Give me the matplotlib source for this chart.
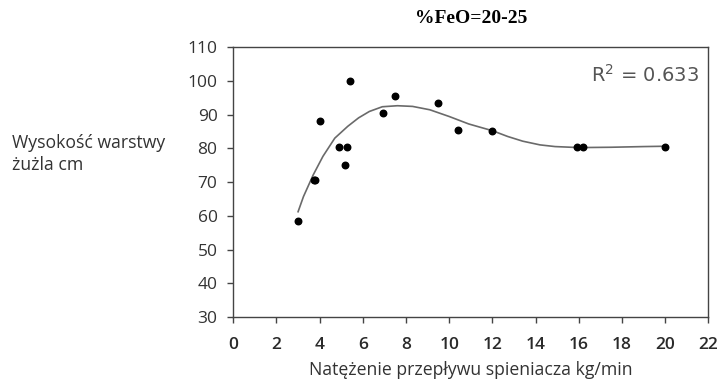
import numpy as np
import matplotlib.pyplot as plt

# punkty pomiarowe
x = [3.0, 3.75, 3.8, 4.0, 4.9, 5.15, 5.25, 5.4, 6.95, 7.5, 9.5, 10.4, 12.0, 15.9, 16.2, 20.0]
y = [58.5, 70.5, 70.5, 88.0, 80.5, 75.0, 80.5, 100.0, 90.5, 95.5, 93.5, 85.5, 85.0, 80.5, 80.5, 80.5]

# linia trendu
trend_x = [3.0, 3.25, 3.7, 4.15, 4.7, 5.3, 5.8, 6.3, 6.9, 7.6, 8.3, 9.1, 10.0, 10.9, 11.5, 12.0,
           12.7, 13.4, 14.2, 14.9, 16.0, 17.5, 19.0, 20.0]
trend_y = [61.2, 65.7, 72.1, 77.6, 83.0, 86.5, 89.0, 90.9, 92.3, 92.6, 92.4, 91.4, 89.4, 87.2, 86.1, 85.2,
           83.5, 82.1, 81.0, 80.5, 80.2, 80.3, 80.5, 80.6]

xticks = np.arange(0, 23, 2)
yticks = np.arange(30, 111, 10)

fig = plt.figure(figsize=(7.2, 3.82), dpi=100)
ax = fig.add_axes([0.324, 0.170, 0.660, 0.707])

ax.plot(trend_x, trend_y, color='#6a6a6a', lw=1.2)
ax.scatter(x, y, s=22, color='black', zorder=3)

ax.set_xlim(0, 22)
ax.set_ylim(30, 110)
ax.set_xticks(xticks)
ax.set_yticks(yticks)
for s in ax.spines.values():
    s.set_color('#444444')
    s.set_linewidth(1.0)
ax.tick_params(direction='out', length=4.3, width=1, color='#444444',
               labelsize=12.5, labelcolor='#333333')
ax.tick_params(axis='x', pad=10, labelcolor='#2a2a2a')
ax.tick_params(axis='y', pad=7)
for lab in ax.get_xticklabels():
    lab.set_family('Open Sans')
    lab.set_fontweight('semibold')
for lab in ax.get_yticklabels():
    lab.set_family('Open Sans')

ax.text(0.979, 0.896, 'R$^2$ = 0.633', transform=ax.transAxes, ha='right', va='center',
        fontsize=14, color='#555555')

fig.text(0.654, 0.952, '%FeO=20-25', ha='center', va='center', fontsize=14,
         fontweight='bold', family='Liberation Serif')
fig.text(0.0167, 0.596, 'Wysokość warstwy\nżużla cm', ha='left', va='center',
         fontsize=12.7, family='Open Sans', color='#333333', linespacing=1.3)
fig.text(0.654, 0.031, 'Natężenie przepływu spieniacza kg/min', ha='center', va='center',
         fontsize=12.7, family='Open Sans', color='#333333')

fig.savefig('out.png', dpi=100)
